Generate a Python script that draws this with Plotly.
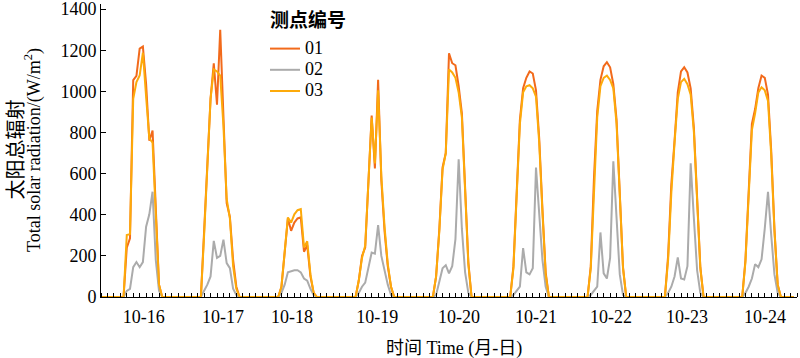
import plotly.graph_objects as go

# ---------------- data ----------------
dates = ["10-16", "10-17", "10-18", "10-19", "10-20", "10-21", "10-22", "10-23", "10-24"]
# position (hour since 10-16 00:00) of each date label on the axis
label_hours = [13.3, 37.9, 59.3, 85.7, 111.1, 135.0, 158.3, 181.9, 206.1]
series_names = ["01", "02", "03"]

# hourly total solar radiation (W/m2), 00:00 ... 23:00 for each day
s01 = [
    [0, 0, 0, 0, 0, 0, 0, 0, 240, 285, 1055, 1075, 1208, 1218, 1035, 760, 810, 425, 60, 0, 0, 0, 0, 0],
    [0, 0, 0, 0, 0, 0, 0, 0, 320, 650, 965, 1137, 935, 1300, 862, 457, 390, 180, 50, 0, 0, 0, 0, 0],
    [0, 0, 0, 0, 0, 0, 0, 0, 50, 200, 382, 322, 362, 382, 387, 220, 252, 100, 20, 0, 0, 0, 0, 0],
    [0, 0, 0, 0, 0, 0, 0, 0, 80, 200, 240, 558, 883, 625, 1057, 568, 320, 150, 50, 0, 0, 0, 0, 0],
    [0, 0, 0, 0, 0, 0, 0, 0, 100, 330, 630, 700, 1185, 1137, 1127, 1025, 893, 548, 170, 0, 0, 0, 0, 0],
    [0, 0, 0, 0, 0, 0, 0, 0, 150, 507, 862, 1015, 1066, 1097, 1087, 1005, 771, 427, 120, 0, 0, 0, 0, 0],
    [0, 0, 0, 0, 0, 0, 0, 0, 150, 583, 904, 1056, 1122, 1142, 1117, 1035, 862, 507, 145, 0, 0, 0, 0, 0],
    [0, 0, 0, 0, 0, 0, 0, 0, 200, 548, 761, 995, 1097, 1117, 1092, 1015, 822, 467, 145, 0, 0, 0, 0, 0],
    [0, 0, 0, 0, 0, 0, 0, 0, 180, 487, 842, 914, 1015, 1077, 1066, 984, 711, 332, 60, 0, 0, 0, 0, 0],
]
s02 = [
    [0, 0, 0, 0, 0, 0, 0, 0, 30, 40, 145, 170, 145, 170, 342, 402, 512, 180, 30, 0, 0, 0, 0, 0],
    [0, 0, 0, 0, 0, 0, 0, 0, 30, 60, 100, 273, 190, 200, 279, 165, 140, 40, 10, 0, 0, 0, 0, 0],
    [0, 0, 0, 0, 0, 0, 0, 0, 20, 60, 120, 125, 130, 130, 120, 90, 80, 40, 10, 0, 0, 0, 0, 0],
    [0, 0, 0, 0, 0, 0, 0, 0, 20, 50, 70, 150, 216, 211, 350, 200, 130, 60, 10, 0, 0, 0, 0, 0],
    [0, 0, 0, 0, 0, 0, 0, 0, 10, 80, 140, 155, 115, 150, 281, 670, 331, 120, 20, 0, 0, 0, 0, 0],
    [0, 0, 0, 0, 0, 0, 0, 0, 10, 30, 50, 238, 120, 110, 140, 630, 382, 180, 50, 0, 0, 0, 0, 0],
    [0, 0, 0, 0, 0, 0, 0, 0, 10, 30, 50, 314, 115, 90, 190, 660, 351, 110, 10, 0, 0, 0, 0, 0],
    [0, 0, 0, 0, 0, 0, 0, 0, 20, 50, 100, 193, 90, 85, 150, 650, 382, 130, 20, 0, 0, 0, 0, 0],
    [0, 0, 0, 0, 0, 0, 0, 0, 20, 50, 90, 160, 145, 183, 334, 512, 301, 110, 20, 0, 0, 0, 0, 0],
]
s03 = [
    [0, 0, 0, 0, 0, 0, 0, 0, 301, 306, 964, 1045, 1077, 1188, 974, 771, 751, 402, 60, 0, 0, 0, 0, 0],
    [0, 0, 0, 0, 0, 0, 0, 0, 301, 630, 964, 1107, 1097, 1077, 832, 477, 382, 150, 40, 0, 0, 0, 0, 0],
    [0, 0, 0, 0, 0, 0, 0, 0, 50, 211, 387, 362, 402, 422, 427, 241, 271, 110, 20, 0, 0, 0, 0, 0],
    [0, 0, 0, 0, 0, 0, 0, 0, 80, 190, 251, 568, 873, 650, 1005, 588, 341, 160, 50, 0, 0, 0, 0, 0],
    [0, 0, 0, 0, 0, 0, 0, 0, 100, 321, 620, 700, 1107, 1092, 1066, 995, 873, 538, 160, 0, 0, 0, 0, 0],
    [0, 0, 0, 0, 0, 0, 0, 0, 140, 487, 842, 995, 1025, 1030, 1015, 974, 751, 412, 110, 0, 0, 0, 0, 0],
    [0, 0, 0, 0, 0, 0, 0, 0, 140, 548, 873, 1025, 1066, 1077, 1056, 1015, 842, 497, 140, 0, 0, 0, 0, 0],
    [0, 0, 0, 0, 0, 0, 0, 0, 180, 507, 751, 964, 1045, 1061, 1035, 984, 802, 457, 140, 0, 0, 0, 0, 0],
    [0, 0, 0, 0, 0, 0, 0, 0, 170, 467, 812, 893, 995, 1020, 1005, 954, 690, 321, 60, 0, 0, 0, 0, 0],
]

colors = {"01": "#F26A1B", "02": "#ABABAB", "03": "#FDAA0A"}

# ---------------- figure ----------------
SERIF = "Liberation Serif, Noto Sans CJK SC, serif"
CJK = "Noto Sans CJK SC, sans-serif"

fig = go.Figure()
for name, days in zip(series_names, [s01, s02, s03]):
    y = [v for day in days for v in day]
    x = list(range(len(y)))
    fig.add_trace(go.Scatter(
        x=x, y=y, mode="lines",
        name='<span style="font-size:18px">%s</span>' % name,
        line=dict(color=colors[name], width=2),
    ))

W, H = 800, 358
L, R, T, B = 101, 3, 4, 61
pw, ph = W - L - R, H - T - B

def px_x(p):
    return (p - L) / pw

def px_y(p):
    return (H - B - p) / ph

fig.update_layout(
    width=W, height=H, autosize=False,
    margin=dict(l=L, r=R, t=T, b=B, pad=0, autoexpand=False),
    plot_bgcolor="white", paper_bgcolor="white",
    font=dict(family=SERIF, size=18, color="black"),
    showlegend=True,
    legend=dict(
        font=dict(family=SERIF, size=14, color="black"),
        x=px_x(265), y=px_y(33), xanchor="left", yanchor="top",
        bgcolor="rgba(0,0,0,0)", tracegroupgap=0, itemwidth=30,
    ),
    xaxis=dict(
        range=[0, 216], showgrid=False, zeroline=False, automargin=False,
        showline=True, linecolor="black", linewidth=1,
        tickmode="array", tickvals=label_hours, ticktext=dates,
        ticks="", ticklabelstandoff=3,
        tickfont=dict(family=SERIF, size=18, color="black"),
        minor=dict(tickmode="linear", tick0=0, dtick=2, ticks="inside",
                   ticklen=4, tickcolor="black", tickwidth=1, showgrid=False),
    ),
    yaxis=dict(
        range=[0, 1425], tickmode="linear", dtick=200, tick0=0,
        showgrid=False, zeroline=False, automargin=False,
        showline=True, linecolor="black", linewidth=1,
        ticks="inside", ticklen=5, tickcolor="black",
        ticklabeloverflow="allow",
        tickfont=dict(family=SERIF, size=18, color="black"),
    ),
)

# legend title
fig.add_annotation(
    text="<b>测点编号</b>", xref="paper", yref="paper",
    x=px_x(268), y=px_y(19), xanchor="left", yanchor="middle",
    showarrow=False, font=dict(family=CJK, size=19, color="black"),
)
fig.add_annotation(
    text="时间 Time (月-日)", xref="paper", yref="paper",
    x=px_x(454), y=px_y(348), xanchor="center", yanchor="middle",
    showarrow=False, font=dict(family=SERIF, size=18, color="black"),
)
fig.add_annotation(
    text="太阳总辐射", xref="paper", yref="paper", textangle=-90,
    x=px_x(13.5), y=px_y(150), xanchor="center", yanchor="middle",
    showarrow=False, font=dict(family=CJK, size=20, color="black"),
)
fig.add_annotation(
    text="Total solar radiation/(W/m<sup>2</sup>)", xref="paper", yref="paper", textangle=-90,
    x=px_x(33), y=px_y(150), xanchor="center", yanchor="middle",
    showarrow=False, font=dict(family=SERIF, size=18, color="black"),
)

fig.write_html(
    "out.html",
    config={"displayModeBar": False},
    post_script="document.body.style.margin='0';document.body.style.padding='0';",
)
